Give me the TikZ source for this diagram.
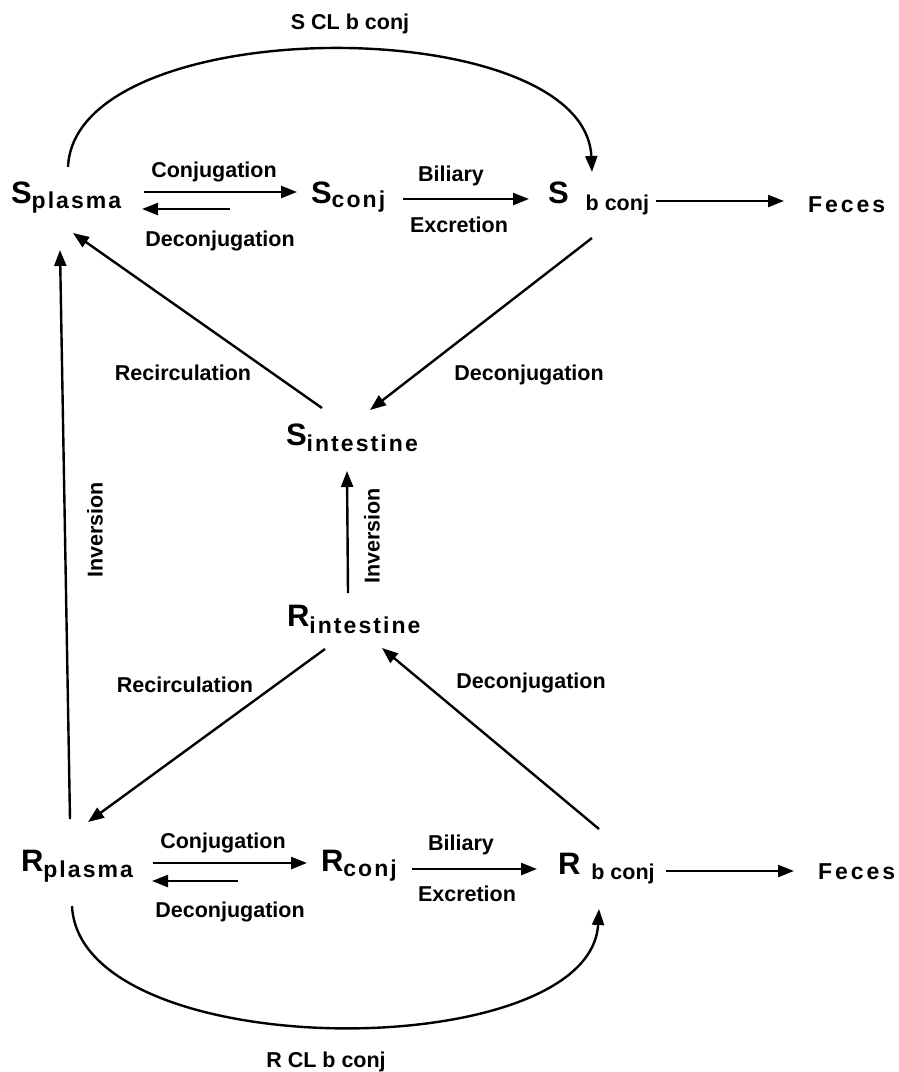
\documentclass[tikz,border=0pt]{standalone}
\usepackage{fontspec}
\setmainfont{Liberation Sans}
\newfontfamily\spacedfont[LetterSpace=9]{Liberation Sans}
\newfontfamily\widefont[LetterSpace=13]{Liberation Sans}
\usetikzlibrary{arrows.meta}
\newcommand{\labfont}{\fontsize{21.5}{24}\selectfont\bfseries}
\newcommand{\subfont}{\fontsize{23}{26}\selectfont\bfseries}
\newcommand{\bigfont}{\fontsize{31}{34}\selectfont\bfseries}
\newcommand{\subtxt}[2]{\raisebox{-#1pt}{\spacedfont\subfont #2}}
\newcommand{\subtxtn}[2]{\raisebox{-#1pt}{\labfont #2}}
\begin{document}
\begin{tikzpicture}[x=1pt,y=-1pt,
  txt/.style={inner sep=0pt, outer sep=0pt, font=\labfont},
  state/.style={inner sep=0pt, outer sep=0pt, anchor=base west},
  arr/.style={line width=2.4pt, -{Triangle[length=16pt,width=12pt]}},
  ln/.style={line width=2.4pt}]
\useasboundingbox[fill=white] (0,0) rectangle (899,1072);

% state nodes
\node[state] (Splasma) at (11,203) {\bigfont S\subtxt{5}{plasma}};
\node[state] (Sconj) at (311,203) {\bigfont S\subtxt{4}{conj}};
\node[state] (Sbconj) at (548,203) {\bigfont S\hspace{17pt}\subtxtn{7}{b conj}};
\node[state] (Fs) at (808,212) {\widefont\subfont Feces};
\node[state] (Sint) at (286,445) {\bigfont S\subtxt{6}{intestine}};
\node[state] (Rint) at (287,626) {\bigfont R\subtxt{7}{intestine}};
\node[state] (Rplasma) at (21,871) {\bigfont R\subtxt{6}{plasma}};
\node[state] (Rconj) at (321,871) {\bigfont R\subtxt{5}{conj}};
\node[state] (Rbconj) at (558,874) {\bigfont R\hspace{11pt}\subtxtn{5}{b conj}};
\node[state] (Fr) at (818,879) {\widefont\subfont Feces};

% labels
\node[txt] (lSCL) at (350,24) {S CL b conj};
\node[txt] (lSconj) at (214,172) {Conjugation};
\node[txt] (lSdeconj) at (220,241) {Deconjugation};
\node[txt] (lSbil) at (451,176) {Biliary};
\node[txt] (lSexc) at (459,225) {Excretion};
\node[txt] (lSrec) at (183,373) {Recirculation};
\node[txt] (lSdec2) at (529,375) {Deconjugation};
\node[txt, rotate=90] (lInv1) at (95,530) {Inversion};
\node[txt, rotate=90] (lInv2) at (372,536) {Inversion};
\node[txt] (lRrec) at (185,685) {Recirculation};
\node[txt] (lRdec2) at (531,683) {Deconjugation};
\node[txt] (lRconj) at (223,843) {Conjugation};
\node[txt] (lRdeconj) at (230,912) {Deconjugation};
\node[txt] (lRbil) at (461,845) {Biliary};
\node[txt] (lRexc) at (467,894) {Excretion};
\node[txt] (lRCL) at (326,1062) {R CL b conj};

% S row
\draw[arr] ([shift={(133,-11)}]Splasma.base west) -- ([shift={(-14,-11)}]Sconj.base west);
\draw[arr] ([shift={(-81,6)}]Sconj.base west) -- ([shift={(131,6)}]Splasma.base west);
\draw[arr] ([shift={(92,-4)}]Sconj.base west) -- ([shift={(-19,-4)}]Sbconj.base west);
\draw[arr] ([shift={(108,-2)}]Sbconj.base west) -- ([shift={(-24,-11)}]Fs.base west);
\draw[arr] ([shift={(57,-36)}]Splasma.base west) .. controls +(7,-157) and +(-7,-162) .. ([shift={(44,-31)}]Sbconj.base west);

% middle
\draw[arr] ([shift={(49,-52)}]Rplasma.base west) -- ([shift={(49,47)}]Splasma.base west);
\draw[arr] ([shift={(36,-37)}]Sint.base west) -- ([shift={(62,30)}]Splasma.base west);
\draw[arr] ([shift={(44,35)}]Sbconj.base west) -- ([shift={(84,-35)}]Sint.base west);
\draw[arr] ([shift={(61,-33)}]Rint.base west) -- ([shift={(61,26)}]Sint.base west);
\draw[arr] ([shift={(38,23)}]Rint.base west) -- ([shift={(67,-49)}]Rplasma.base west);
\draw[arr] ([shift={(41,-45)}]Rbconj.base west) -- ([shift={(95,22)}]Rint.base west);

% R row
\draw[arr] ([shift={(132,-8)}]Rplasma.base west) -- ([shift={(-14,-8)}]Rconj.base west);
\draw[arr] ([shift={(-83,10)}]Rconj.base west) -- ([shift={(131,10)}]Rplasma.base west);
\draw[arr] ([shift={(91,-2)}]Rconj.base west) -- ([shift={(-21,-5)}]Rbconj.base west);
\draw[arr] ([shift={(108,-3)}]Rbconj.base west) -- ([shift={(-24,-8)}]Fr.base west);
\draw[arr] ([shift={(51,35)}]Rplasma.base west) .. controls +(8,160) and +(-9,157) .. ([shift={(41,35)}]Rbconj.base west);
\end{tikzpicture}
\end{document}
